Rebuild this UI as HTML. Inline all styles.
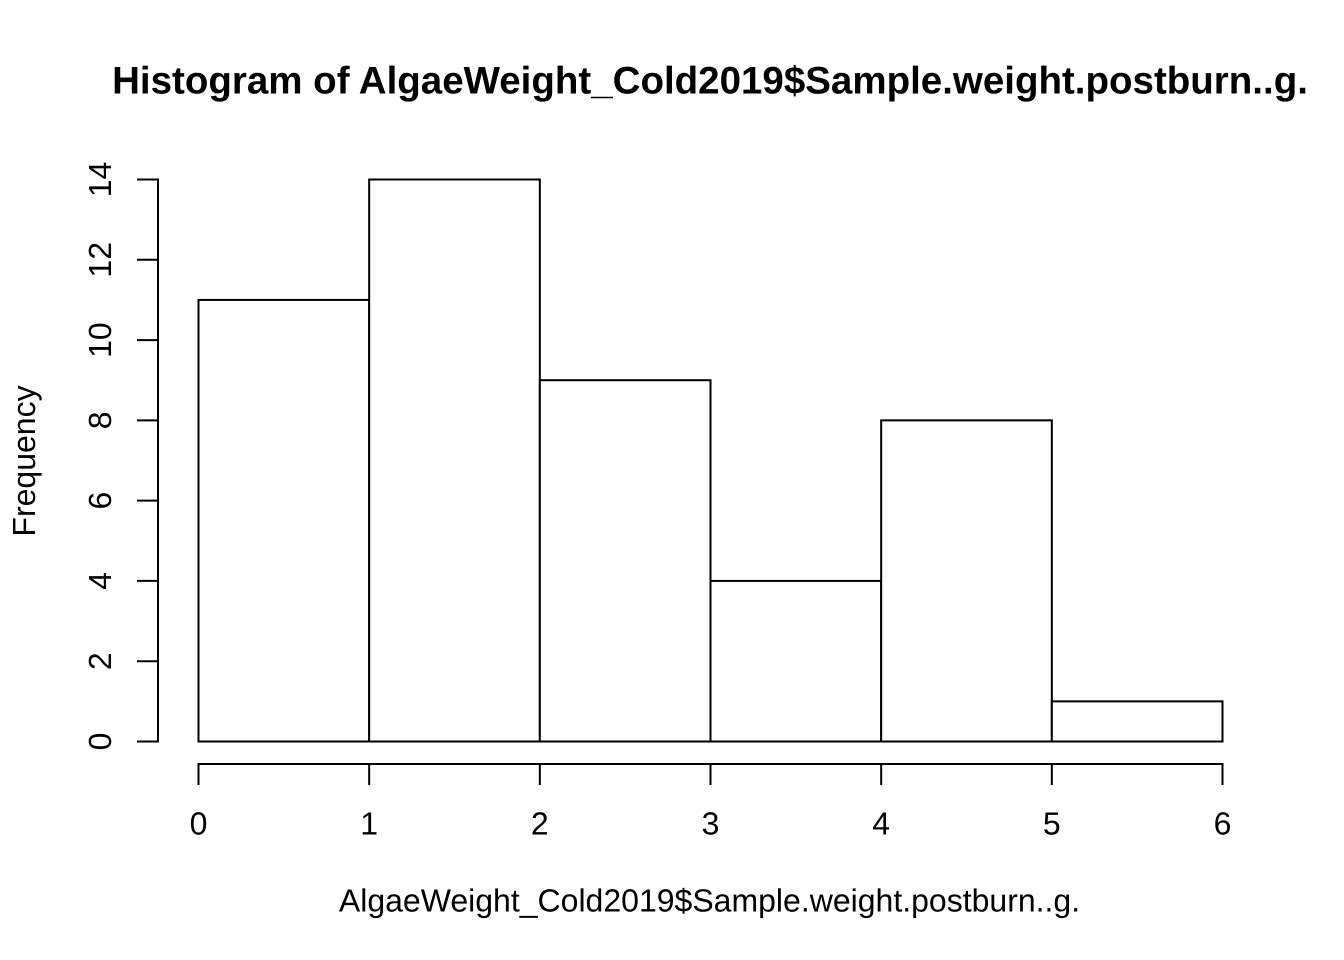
<!DOCTYPE html>
<html>
<head>
<meta charset="utf-8">
<style>
html,body{margin:0;padding:0;background:#fff;}
svg{display:block;}
text{font-family:"Liberation Sans",Arial,sans-serif;fill:#000;text-rendering:geometricPrecision;}
</style>
</head>
<body>
<svg id="chart" width="1344" height="960" viewBox="0 0 1344 960" xmlns="http://www.w3.org/2000/svg">
<text x="710" y="93.5" font-size="38.5" font-weight="bold" text-anchor="middle">Histogram of AlgaeWeight_Cold2019$Sample.weight.postburn..g.</text>
<text x="709.5" y="911.5" font-size="32" text-anchor="middle">AlgaeWeight_Cold2019$Sample.weight.postburn..g.</text>
<text transform="translate(35,461) rotate(-90)" font-size="32" text-anchor="middle">Frequency</text>
<g id="bars"></g>
<g id="x-axis"></g>
<g id="y-axis"></g>
</svg>
<script>
const binEdges = [0, 1, 2, 3, 4, 5, 6];
const frequencies = [11, 14, 9, 4, 8, 1];
const xTickLabels = [0, 1, 2, 3, 4, 5, 6];
const yTickLabels = [0, 2, 4, 6, 8, 10, 12, 14];

const NS = 'http://www.w3.org/2000/svg';
const xScale = v => 198.5 + (v - 0) * (1222.5 - 198.5) / 6;
const yScale = v => 741.5 - (v - 0) * (741.5 - 179.5) / 14;

function line(parent, x1, y1, x2, y2) {
  const el = document.createElementNS(NS, 'line');
  el.setAttribute('x1', x1);
  el.setAttribute('y1', y1);
  el.setAttribute('x2', x2);
  el.setAttribute('y2', y2);
  el.setAttribute('stroke', '#000');
  el.setAttribute('stroke-width', '2');
  parent.appendChild(el);
  return el;
}

const barsGroup = document.getElementById('bars');
frequencies.forEach((f, i) => {
  const r = document.createElementNS(NS, 'rect');
  
  
  r.setAttribute('x', xScale(binEdges[i]));
  r.setAttribute('y', yScale(f));
  r.setAttribute('width', xScale(binEdges[i + 1]) - xScale(binEdges[i]));
  r.setAttribute('height', yScale(0) - yScale(f));
  r.setAttribute('fill', '#fff');
  r.setAttribute('stroke', '#000');
  r.setAttribute('stroke-width', '2');
  barsGroup.appendChild(r);
});

const xAxis = document.getElementById('x-axis');
const xAxisY = 764;
line(xAxis, xScale(xTickLabels[0]) - 1, xAxisY, xScale(xTickLabels[xTickLabels.length - 1]) + 1, xAxisY);
xTickLabels.forEach(v => {
  const tick = line(xAxis, xScale(v), xAxisY, xScale(v), xAxisY + 21);
  
  
  const t = document.createElementNS(NS, 'text');
  
  
  t.setAttribute('x', xScale(v));
  t.setAttribute('y', 834.5);
  t.setAttribute('font-size', '32');
  t.setAttribute('text-anchor', 'middle');
  t.textContent = v;
  xAxis.appendChild(t);
});

const yAxis = document.getElementById('y-axis');
const yAxisX = 158;
line(yAxis, yAxisX, yScale(yTickLabels[0]) + 1, yAxisX, yScale(yTickLabels[yTickLabels.length - 1]) - 1);
yTickLabels.forEach(v => {
  const tick = line(yAxis, yAxisX, yScale(v), yAxisX - 21, yScale(v));
  
  
  const t = document.createElementNS(NS, 'text');
  
  
  t.setAttribute('transform', 'translate(111,' + yScale(v) + ') rotate(-90)');
  t.setAttribute('font-size', '32');
  t.setAttribute('text-anchor', 'middle');
  t.textContent = v;
  yAxis.appendChild(t);
});
</script>
</body>
</html>
